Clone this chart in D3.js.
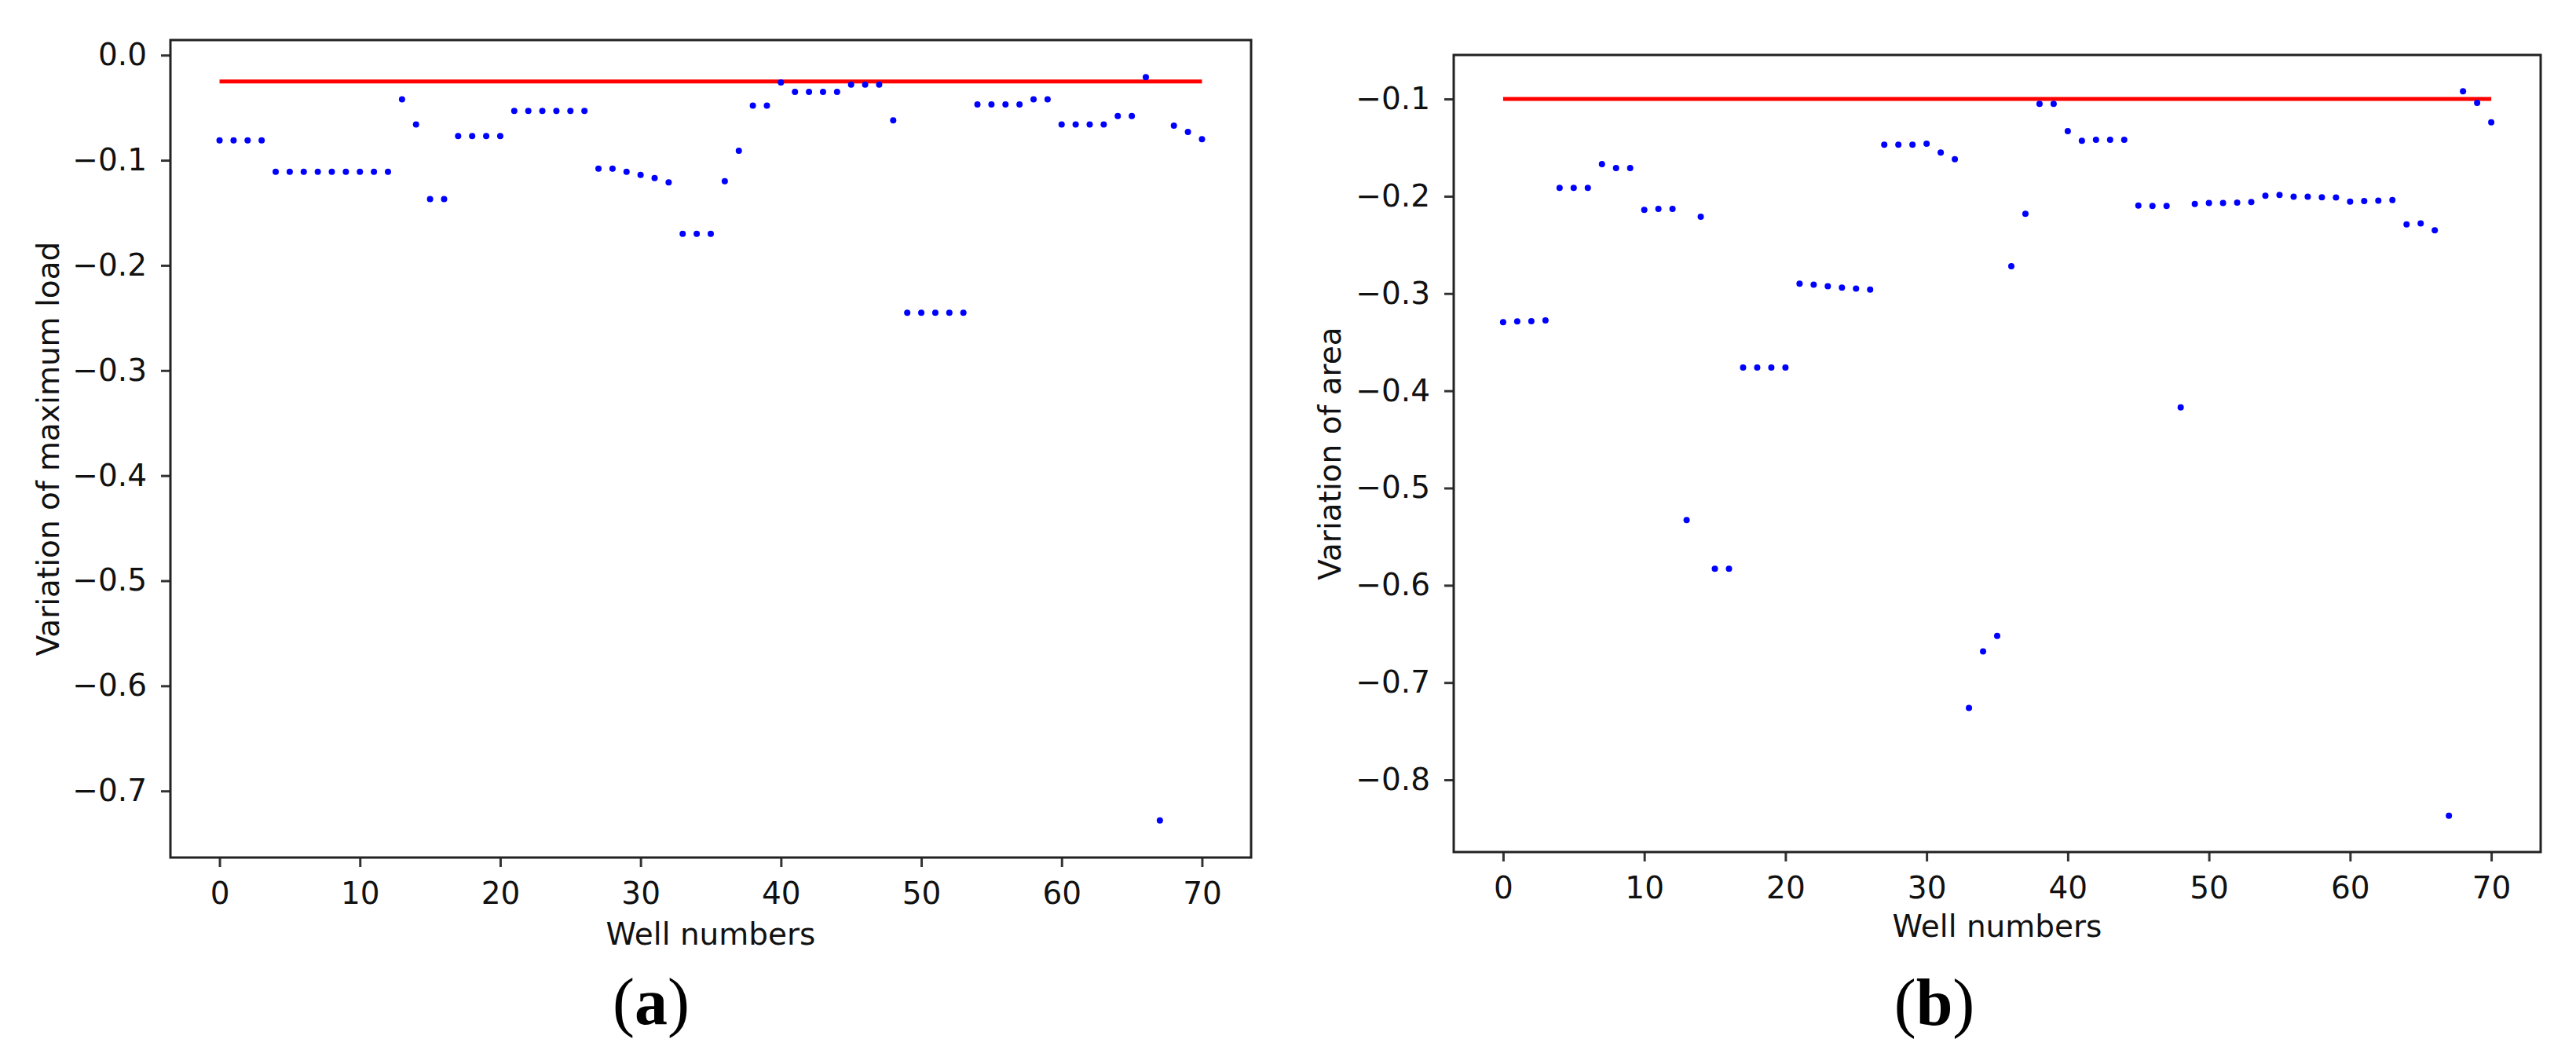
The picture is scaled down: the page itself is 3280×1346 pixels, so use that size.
<!DOCTYPE html>
<html>
<head>
<meta charset="utf-8">
<script src="https://cdnjs.cloudflare.com/ajax/libs/d3/7.8.5/d3.min.js"></script>
<style>
  html, body { margin: 0; padding: 0; background: #fff; }
  svg text { font-family: "DejaVu Sans", sans-serif; fill: #111; }
</style>
</head>
<body>
<div id="chart"></div>
<script>
// well index 0..70
const wells = d3.range(0, 71);

// (a) variation of maximum load
const loadVariation = [
  -0.081, -0.081, -0.081, -0.081, -0.111, -0.111, -0.111, -0.111, -0.111, -0.111,
  -0.111, -0.111, -0.111, -0.042, -0.066, -0.137, -0.137, -0.077, -0.077, -0.077,
  -0.077, -0.053, -0.053, -0.053, -0.053, -0.053, -0.053, -0.108, -0.108, -0.111,
  -0.114, -0.117, -0.121, -0.170, -0.170, -0.170, -0.120, -0.091, -0.048, -0.048,
  -0.026, -0.035, -0.035, -0.035, -0.035, -0.028, -0.028, -0.028, -0.062, -0.245,
  -0.245, -0.245, -0.245, -0.245, -0.047, -0.047, -0.047, -0.047, -0.042, -0.042,
  -0.066, -0.066, -0.066, -0.066, -0.058, -0.058, -0.021, -0.728, -0.067, -0.073,
  -0.080
];

// (b) variation of area
const areaVariation = [
  -0.3295, -0.3287, -0.3284, -0.3277, -0.1915, -0.1915, -0.1915, -0.167, -0.171, -0.171,
  -0.214, -0.213, -0.213, -0.533, -0.221, -0.583, -0.583, -0.376, -0.376, -0.376,
  -0.376, -0.290, -0.291, -0.2925, -0.294, -0.295, -0.296, -0.147, -0.147, -0.147,
  -0.146, -0.155, -0.162, -0.726, -0.668, -0.652, -0.272, -0.218, -0.105, -0.105,
  -0.133, -0.143, -0.142, -0.142, -0.142, -0.2095, -0.210, -0.210, -0.417, -0.208,
  -0.207, -0.207, -0.2066, -0.206, -0.1994, -0.1987, -0.2005, -0.2005, -0.201, -0.2012,
  -0.2056, -0.205, -0.2045, -0.204, -0.229, -0.228, -0.235, -0.837, -0.092, -0.104,
  -0.124
];

const loadThreshold = -0.025;
const areaThreshold = -0.1;

const xTicks = [0, 10, 20, 30, 40, 50, 60, 70];
const loadTicks = [0, -0.1, -0.2, -0.3, -0.4, -0.5, -0.6, -0.7];
const areaTicks = [-0.1, -0.2, -0.3, -0.4, -0.5, -0.6, -0.7, -0.8];

const width = 3280, height = 1346;
const fontSize = 39;

const svg = d3.select("#chart")
  .append("svg")
  .attr("width", width)
  .attr("height", height)
  .style("display", "block");

svg.append("rect").attr("width", width).attr("height", height).attr("fill", "#fff");

const panels = [
  {
    values: loadVariation, threshold: loadThreshold, yTicks: loadTicks,
    box: { left: 217, top: 51, right: 1593, bottom: 1092 },
    yLabel: "Variation of maximum load", yLabelX: 75,
    xLabelY: 1203, caption: "a", captionX: 829, captionY: 1304
  },
  {
    values: areaVariation, threshold: areaThreshold, yTicks: areaTicks,
    box: { left: 1851, top: 70, right: 3235, bottom: 1085 },
    yLabel: "Variation of area", yLabelX: 1707,
    xLabelY: 1193, caption: "b", captionX: 2463, captionY: 1305
  }
];

// matplotlib-like 5% padding of the data extent
function padded(extent) {
  const pad = (extent[1] - extent[0]) * 0.05;
  return [extent[0] - pad, extent[1] + pad];
}

const fmt = d3.format(".1f");

panels.forEach(p => {
  const b = p.box;
  const x = d3.scaleLinear()
    .domain(padded(d3.extent(wells)))
    .range([b.left, b.right]);
  const y = d3.scaleLinear()
    .domain(padded(d3.extent(p.values.concat([p.threshold]))))
    .range([b.bottom, b.top]);

  const g = svg.append("g");

  // threshold line
  const line = d3.line().x(d => x(d[0])).y(d => y(d[1]));
  g.append("path")
    .attr("d", line([[wells[0], p.threshold], [wells[wells.length - 1], p.threshold]]))
    .attr("stroke", "#ff0000")
    .attr("stroke-width", 5)
    .attr("fill", "none");

  // points
  g.selectAll("circle.pt")
    .data(wells)
    .enter()
    .append("circle")
    .attr("class", "pt")
    .attr("cx", d => x(d))
    .attr("cy", d => y(p.values[d]))
    .attr("r", 4)
    .attr("fill", "#0000ff");

  // axes
  const xAxis = g.append("g")
    .attr("transform", `translate(0,${b.bottom})`)
    .call(d3.axisBottom(x).tickValues(xTicks).tickSize(12).tickPadding(19).tickFormat(d3.format("d")));
  const yAxis = g.append("g")
    .attr("transform", `translate(${b.left},0)`)
    .call(d3.axisLeft(y).tickValues(p.yTicks).tickSize(12).tickPadding(18).tickFormat(fmt));

  [xAxis, yAxis].forEach(a => {
    a.select(".domain").remove();
    a.selectAll("line").attr("stroke", "#333").attr("stroke-width", 3);
    a.selectAll("text")
      .attr("font-size", fontSize)
      .attr("font-family", "DejaVu Sans")
      .attr("fill", "#111");
  });

  // frame
  g.append("rect")
    .attr("x", b.left).attr("y", b.top)
    .attr("width", b.right - b.left).attr("height", b.bottom - b.top)
    .attr("fill", "none")
    .attr("stroke", "#222")
    .attr("stroke-width", 3);

  // axis labels
  g.append("text")
    .attr("x", (b.left + b.right) / 2)
    .attr("y", p.xLabelY)
    .attr("text-anchor", "middle")
    .attr("font-size", fontSize)
    .text("Well numbers");

  g.append("text")
    .attr("transform", `translate(${p.yLabelX},${(b.top + b.bottom) / 2}) rotate(-90)`)
    .attr("text-anchor", "middle")
    .attr("font-size", fontSize)
    .text(p.yLabel);

  // caption (a)/(b)
  const cap = g.append("text")
    .attr("x", p.captionX)
    .attr("y", p.captionY)
    .attr("text-anchor", "middle")
    .attr("font-size", 84)
    .style("font-family", "'Liberation Serif', 'Times New Roman', serif")
    .style("fill", "#000");
  cap.append("tspan").text("(");
  cap.append("tspan").attr("font-weight", "bold").text(p.caption);
  cap.append("tspan").text(")");
});
</script>
</body>
</html>
